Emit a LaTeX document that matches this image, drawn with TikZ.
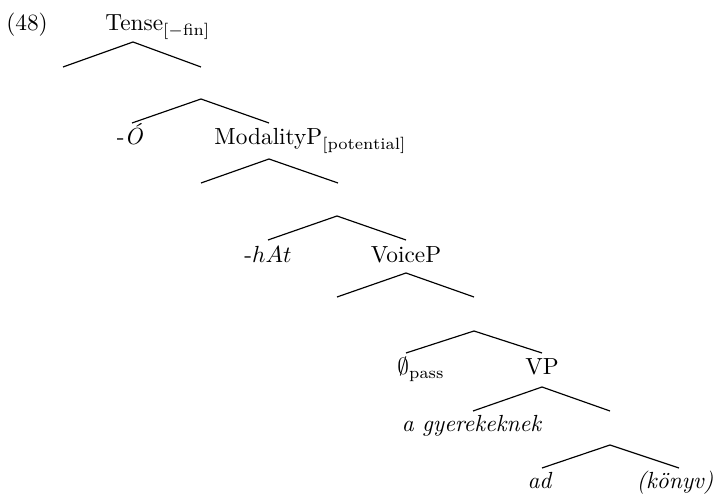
\documentclass[tikz,border=0pt]{standalone}
\usepackage{amsmath,amssymb}
\begin{document}
\begin{tikzpicture}[x=0.429pt,y=-0.429pt,
  lbl/.style={anchor=base,inner sep=0pt},
  branch/.style={line width=0.5pt}]
\useasboundingbox (0,0) rectangle (718,494);
% labels
\node[lbl] (ex) at (27,31) {(48)};
\node[lbl,anchor=base west] (tense) at (105,31) {Tense$_{[-\mathrm{fin}]}$};
\node[lbl] (o) at (130,145) {-\textit{Ó}};
\node[lbl,anchor=base west] (mod) at (214,145) {ModalityP$_{\text{[potential]}}$};
\node[lbl] (hat) at (268,263) {-$hAt$};
\node[lbl] (voice) at (406,263) {VoiceP};
\node[lbl,anchor=base west] (pass) at (397,375) {$\emptyset_{\mathrm{pass}}$};
\node[lbl] (vp) at (542,375) {VP};
\node[lbl] (gy) at (472,432) {\textit{a gyerekeknek}};
\node[lbl] (ad) at (540,489) {\textit{ad}};
\node[lbl] (k) at (675,489) {\textit{(könyv)}};
% branch points
\coordinate (a1) at (133,42);  \coordinate (l1) at (63,67);  \coordinate (r1) at (201,67);
\coordinate (a2) at (201,99);  \coordinate (l2) at (132,123); \coordinate (r2) at (269,123);
\coordinate (a3) at (269,159); \coordinate (l3) at (201,183); \coordinate (r3) at (338,183);
\coordinate (a4) at (337,216); \coordinate (l4) at (268,240); \coordinate (r4) at (406,240);
\coordinate (a5) at (406,273); \coordinate (l5) at (337,297); \coordinate (r5) at (474,297);
\coordinate (a6) at (474,331); \coordinate (l6) at (406,353); \coordinate (r6) at (542,353);
\coordinate (a7) at (542,387); \coordinate (l7) at (473,411); \coordinate (r7) at (610,411);
\coordinate (a8) at (610,445); \coordinate (l8) at (542,468); \coordinate (r8) at (679,468);
\foreach \i in {1,...,8} {
  \draw[branch] (l\i) -- (a\i) -- (r\i);
}
\end{tikzpicture}
\end{document}
